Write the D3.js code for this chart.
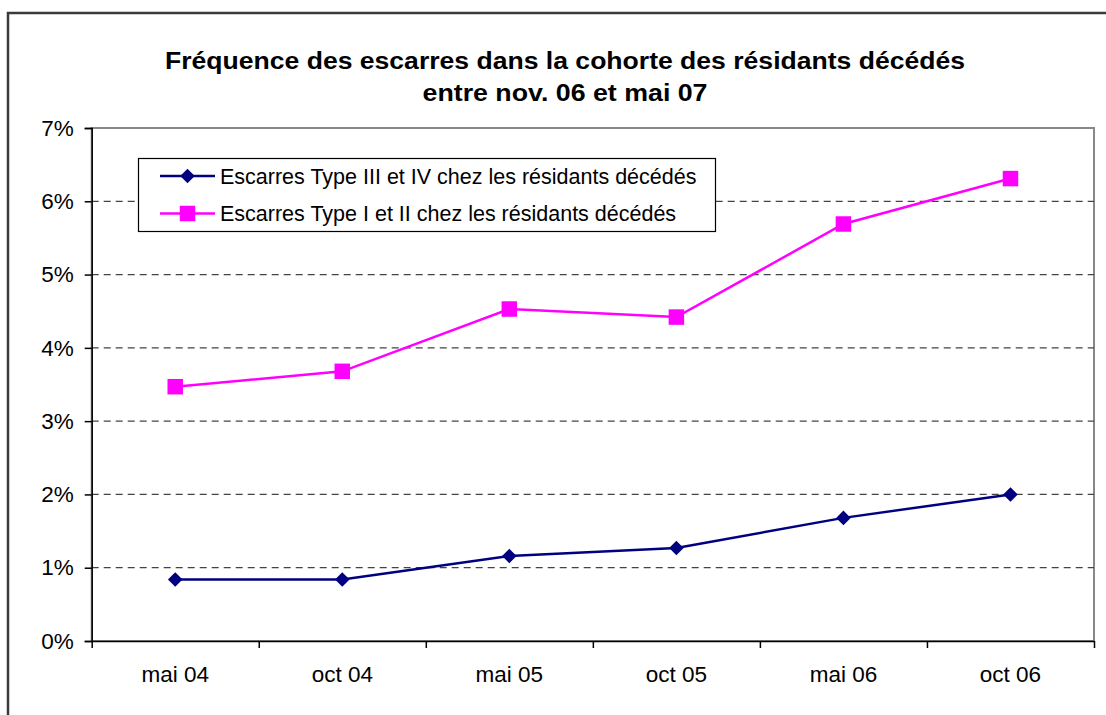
<!DOCTYPE html>
<html>
<head>
<meta charset="utf-8">
<script src="https://cdn.jsdelivr.net/npm/d3@7"></script>
<style>
  body { margin: 0; background: #fff; }
  svg { display: block; font-family: "Liberation Sans", Arial, sans-serif; }
  .axis path, .axis line { stroke: #000; stroke-width: 1.5; }
  .axis text { font-size: 22.5px; fill: #000; }
</style>
</head>
<body>
<div class="chart-wrapper"></div>
<script>

const categories = ['mai 04', 'oct 04', 'mai 05', 'oct 05', 'mai 06', 'oct 06']
const typeIIIIV = [0.84, 0.84, 1.16, 1.27, 1.68, 2.00]
const typeIII = [3.47, 3.68, 4.53, 4.42, 5.69, 6.31]
const yTicks = [0, 1, 2, 3, 4, 5, 6, 7]
const seriesNames = [
	'Escarres Type III et IV chez les résidants décédés',
	'Escarres Type I et II chez les résidants décédés'
]
const titleLines = [
	'Fréquence des escarres dans la cohorte des résidants décédés',
	'entre nov. 06 et mai 07'
]

let width = 1106
let height = 715

const margin = {left: 91.7, top: 128, right: 12, bottom: 74}

let svg = d3.select('.chart-wrapper').append('svg')
.attr('width', width)
.attr('height', height)

// outer chart frame, cropped by the window on right and bottom
svg.append('rect')
.attr('x', 8).attr('y', 13)
.attr('width', 1300).attr('height', 900)
.attr('fill', '#fff')
.attr('stroke', '#3a3a3a')
.attr('stroke-width', 2.5)

let xScale = d3.scaleBand()
.domain(categories)
.range([margin.left, width - margin.right])

let xEdges = d3.scaleLinear()
.domain([0, categories.length])
.range(xScale.range())

let yScale = d3.scaleLinear()
.domain([0, 7])
.range([height - margin.bottom, margin.top])

// plot area frame
svg.append('rect')
.attr('x', margin.left)
.attr('y', margin.top)
.attr('width', xScale.range()[1] - margin.left)
.attr('height', yScale(0) - margin.top)
.attr('fill', 'none')
.attr('stroke', '#888')
.attr('stroke-width', 2)

// dashed gridlines
svg.append('g')
.selectAll('line')
.data(yTicks.filter(d => d > 0 && d < 7))
.join('line')
.attr('x1', margin.left)
.attr('x2', xScale.range()[1])
.attr('y1', d => yScale(d))
.attr('y2', d => yScale(d))
.attr('stroke', '#444')
.attr('stroke-width', 1.2)
.attr('stroke-dasharray', '7,5')

let yaxis = svg.append('g')
.attr('class', 'axis')
.attr('transform', `translate(${margin.left},0)`)
.call(
	d3.axisLeft(yScale)
	.tickValues(yTicks)
	.tickSize(7)
	.tickPadding(11)
	.tickFormat(d => d + '%')
)

let xticks = svg.append('g')
.attr('class', 'axis')
.attr('transform', `translate(0,${yScale(0)})`)
.call(
	d3.axisBottom(xEdges)
	.tickValues(d3.range(categories.length + 1))
	.tickSize(7)
	.tickSizeOuter(0)
	.tickFormat('')
)

let xlabels = svg.append('g')
.attr('class', 'axis')
.attr('transform', `translate(0,${yScale(0)})`)
.call(
	d3.axisBottom(xScale)
	.tickSize(0)
	.tickPadding(25)
)
xlabels.select('.domain').remove()

let cx = d => xScale(d) + xScale.bandwidth() / 2

const line = d3.line()
.x((d, i) => cx(categories[i]))
.y(d => yScale(d))

let lines = svg.append('g')

lines.append('path')
.datum(typeIII)
.attr('d', line)
.attr('fill', 'none')
.attr('stroke', '#ff00ff')
.attr('stroke-width', 2.5)

lines.append('path')
.datum(typeIIIIV)
.attr('d', line)
.attr('fill', 'none')
.attr('stroke', '#000080')
.attr('stroke-width', 2.5)

const diamond = d3.symbol().type(d3.symbolDiamond2).size(135)
const square = d3.symbol().type(d3.symbolSquare).size(240)

svg.append('g')
.selectAll('path')
.data(typeIIIIV)
.join('path')
.attr('d', diamond)
.attr('transform', (d, i) => `translate(${cx(categories[i])},${yScale(d)})`)
.attr('fill', '#000080')

svg.append('g')
.selectAll('path')
.data(typeIII)
.join('path')
.attr('d', square)
.attr('transform', (d, i) => `translate(${cx(categories[i])},${yScale(d)})`)
.attr('fill', '#ff00ff')

// title (the original renders its bold text wider than Liberation Sans does)
const titleWidths = [800, 285]

svg.append('g')
.selectAll('text')
.data(titleLines)
.join('text')
.attr('x', 565)
.attr('y', (d, i) => 68.5 + i * 32.5)
.attr('text-anchor', 'middle')
.attr('font-size', '23px')
.attr('font-weight', 'bold')
.attr('textLength', (d, i) => titleWidths[i])
.attr('lengthAdjust', 'spacingAndGlyphs')
.text(d => d)

// legend
let legend = svg.append('g')

legend.append('rect')
.attr('x', 138.5).attr('y', 158.5)
.attr('width', 577).attr('height', 73)
.attr('fill', '#fff')
.attr('stroke', '#000')
.attr('stroke-width', 1.2)

const legendColors = ['#000080', '#ff00ff']
const legendSymbols = [diamond, square]

seriesNames.forEach((name, i) => {
	let ly = 176 + i * 37.5
	legend.append('line')
	.attr('x1', 160).attr('x2', 215)
	.attr('y1', ly).attr('y2', ly)
	.attr('stroke', legendColors[i])
	.attr('stroke-width', 2.5)
	legend.append('path')
	.attr('d', legendSymbols[i])
	.attr('transform', `translate(187.5,${ly})`)
	.attr('fill', legendColors[i])
	legend.append('text')
	.attr('x', 220)
	.attr('y', ly)
	.attr('dy', '0.35em')
	.attr('font-size', '21.5px')
	.text(name)
})

</script>
</body>
</html>
